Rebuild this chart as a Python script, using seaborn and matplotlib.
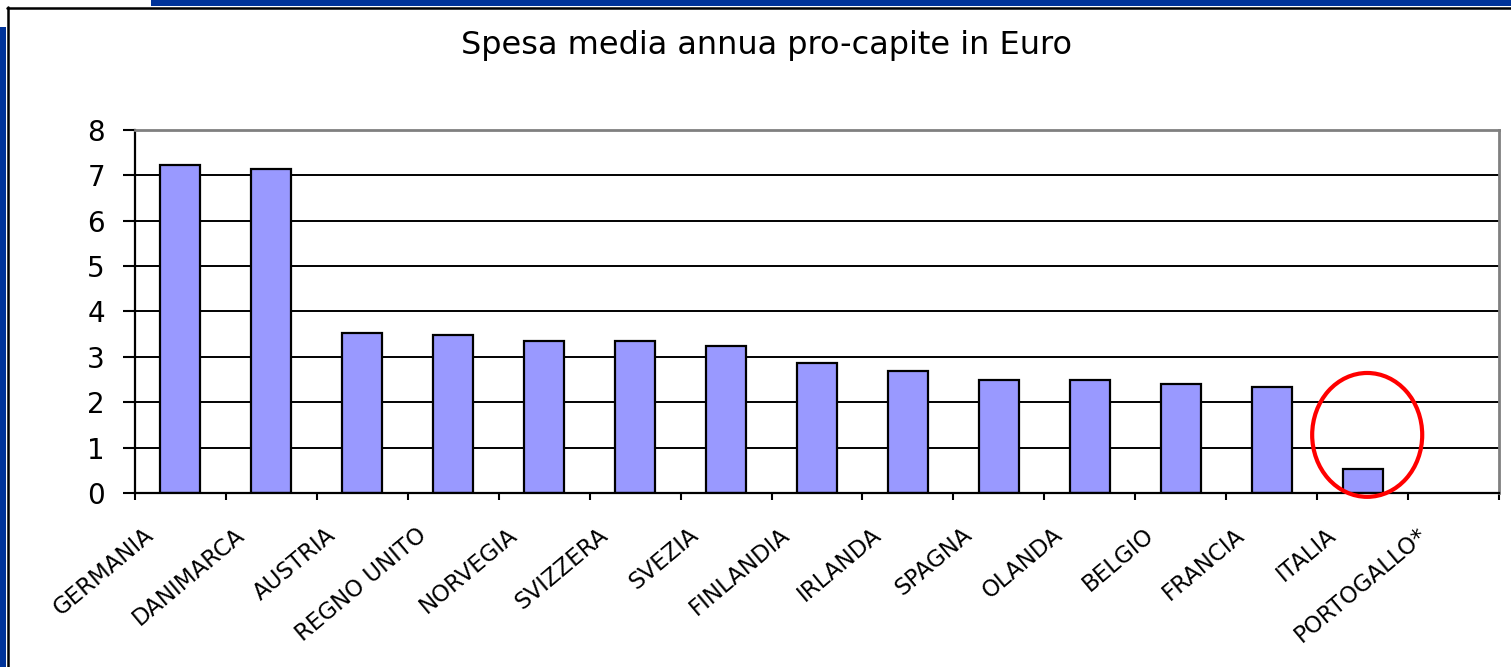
import matplotlib
matplotlib.use("Agg")
import matplotlib.pyplot as plt
import matplotlib.transforms as mtransforms
from matplotlib import font_manager
from matplotlib.patches import Ellipse, Rectangle
from matplotlib.lines import Line2D
import numpy as np
import pandas as pd
import seaborn as sns

paesi = ["GERMANIA", "DANIMARCA", "AUSTRIA", "REGNO UNITO", "NORVEGIA", "SVIZZERA",
         "SVEZIA", "FINLANDIA", "IRLANDA", "SPAGNA", "OLANDA", "BELGIO", "FRANCIA",
         "ITALIA", "PORTOGALLO*"]
spesa = [7.23, 7.13, 3.53, 3.48, 3.34, 3.34, 3.24, 2.87, 2.68, 2.49, 2.49, 2.40, 2.34,
         0.53, np.nan]
y_ticks = [0, 1, 2, 3, 4, 5, 6, 7, 8]
titolo = "Spesa media annua pro-capite in Euro"

sns.set_style("white")
plt.rcParams["font.family"] = ["DejaVu Sans"]
plt.rcParams["text.color"] = "black"
plt.rcParams["xtick.color"] = "black"
plt.rcParams["ytick.color"] = "black"

# font stretto per le etichette, se c'è
nomi = {f.name for f in font_manager.fontManager.ttflist}
if "Liberation Sans Narrow" in nomi:
    font_lab, size_lab = "Liberation Sans Narrow", 18
else:
    font_lab, size_lab = "DejaVu Sans", 16.5

df = pd.DataFrame({"paese": paesi, "spesa": spesa})

fig = plt.figure(figsize=(15.11, 6.67), dpi=100)
ax = fig.add_axes([0.0893, 0.2609, 0.9028, 0.5442])

sns.barplot(data=df, x="paese", y="spesa", order=paesi, color="#9999FF",
            saturation=1, width=0.44, edgecolor="black", linewidth=1.6, ax=ax)

ax.set_xlim(-0.5, len(paesi) - 0.5)
ax.set_ylim(0, 8)
ax.set_yticks(y_ticks)
ax.set_xlabel("")
ax.set_ylabel("")
ax.set_axisbelow(True)
ax.yaxis.grid(True, color="black", linewidth=1.4)
ax.xaxis.grid(False)

for s in ["left", "bottom"]:
    ax.spines[s].set_color("black")
    ax.spines[s].set_linewidth(1.6)
for s in ["top", "right"]:
    ax.spines[s].set_color("#808080")
    ax.spines[s].set_linewidth(2.0)

# tick ai confini delle categorie, etichette al centro
ax.set_xticks(np.arange(-0.5, len(paesi), 1.0))
ax.set_xticklabels([])
ax.set_xticks(np.arange(len(paesi)), minor=True)
ax.set_xticklabels(paesi, minor=True, rotation=40, ha="right", va="center",
                   rotation_mode="anchor", fontsize=size_lab, family=[font_lab, "DejaVu Sans"])
ax.tick_params(axis="x", which="major", direction="out", length=5, width=1.5,
               color="black", bottom=True)
ax.tick_params(axis="x", which="minor", length=0, pad=28)
ax.tick_params(axis="y", direction="out", length=8.6, width=1.5, color="black",
               labelsize=20, pad=13, left=True)

offset = mtransforms.ScaledTranslation(-30 / 100, 0, fig.dpi_scale_trans)
for lab in ax.get_xticklabels(minor=True):
    lab.set_transform(lab.get_transform() + offset)

# cerchio rosso attorno all'Italia
i_ita = paesi.index("ITALIA")
ax.add_patch(Ellipse((i_ita + 0.05, 1.28), 1.21, 2.73, fill=False,
                     edgecolor="red", linewidth=3, clip_on=False, zorder=5))

fig.text(0.507, 0.9325, titolo, ha="center", va="center", fontsize=23)

# cornice stile diapositiva
W, H = 1511, 667
fig.patches.append(Rectangle((151 / W, 1 - 6 / H), 1, 6 / H, transform=fig.transFigure,
                             facecolor="#003399", edgecolor="none"))
fig.patches.append(Rectangle((0, 0), 6 / W, 1 - 27 / H, transform=fig.transFigure,
                             facecolor="#003399", edgecolor="none"))
fig.lines.append(Line2D([7 / W, 1], [1 - 7.5 / H, 1 - 7.5 / H], transform=fig.transFigure,
                        color="black", linewidth=1.8))
fig.lines.append(Line2D([7.5 / W, 7.5 / W], [0, 1 - 7 / H], transform=fig.transFigure,
                        color="black", linewidth=1.8))

fig.savefig("out.png", dpi=100, facecolor="white")
